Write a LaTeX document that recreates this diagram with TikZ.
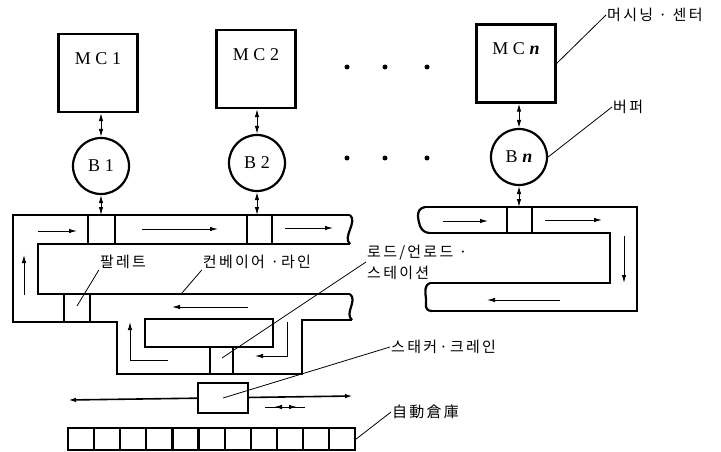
\documentclass[tikz,border=0pt]{standalone}
\usepackage{fontspec}
\setmainfont{Liberation Serif}
\newfontfamily\kr[LetterSpace=15]{Noto Sans CJK KR}
\usetikzlibrary{arrows.meta,positioning}

\begin{document}
\begin{tikzpicture}[x=1pt, y=-1pt,
    mc/.style={draw, line width=2.2pt, minimum width=79pt, minimum height=78pt},
    mctext/.style={font=\fontsize{18}{20}\selectfont, inner sep=0pt},
    buf/.style={draw, circle, line width=2.2pt, minimum size=56pt, inner sep=0pt,
                font=\fontsize{18}{20}\selectfont},
    cell/.style={draw, line width=2.2pt, minimum width=26.1pt, minimum height=22pt},
    lbl/.style={font=\kr\fontsize{15}{21}\selectfont, inner sep=1pt},
    wall/.style={line width=2.2pt},
    arr/.style={-{Latex[length=8pt,width=4.5pt]}, line width=1pt},
    link/.style={{Latex[length=8pt,width=4.5pt]}-{Latex[length=8pt,width=4.5pt]}, line width=1pt},
    lead/.style={line width=0.8pt}]
  \useasboundingbox (0,0) rectangle (721,452);

  % machining centres and buffers
  \node[mc] (mc1) at (98,73) {};
  \node[mc] (mc2) at (256,69) {};
  \node[mc] (mcn) at (516,63.5) {};
  \node[mctext, below=19pt of mc1.north] {M C 1};
  \node[mctext, below=19pt of mc2.north] {M C 2};
  \node[mctext, below=19pt of mcn.north] {M C \textbf{\textit{n}}};
  \node[buf] (b1) at (101,166) {B 1};
  \node[buf] (b2) at (257,163) {B 2};
  \node[buf] (bn) at (519,157) {B \textbf{\textit{n}}};
  \foreach \x in {347,385,427} {
    \fill (\x,67) circle (2.5pt);
    \fill (\x,158) circle (2.5pt);
  }

  % conveyor line, left part
  \draw[wall] (350,215) -- (13,215) -- (13,322) -- (117,322) -- (117,374)
    -- (302,374) -- (302,320) -- (352,320);
  \draw[wall] (350,244) -- (38,244) -- (38,294) -- (350,294);
  \draw[wall] (350,215) .. controls (358,222) and (342,237) .. (350,244);
  \draw[wall] (350,294) .. controls (358,301) and (344,313) .. (352,320);
  \draw[wall] (145,319) rectangle (273,347);
  \foreach \x in {88,115,247,272} \draw[wall] (\x,215) -- (\x,244);
  \draw[wall] (64,294) -- (64,322) (90,294) -- (90,322);
  \draw[wall] (210,347) -- (210,374) (233,347) -- (233,374);
  % conveyor line, right part
  \draw[wall] (425,207) -- (637,207) -- (637,311) -- (432,311);
  \draw[wall] (430,233) -- (610,233) -- (610,283) -- (430,283);
  \draw[wall] (425,207) .. controls (414,209) and (419,222) .. (420,226)
    .. controls (422,231) and (426,233) .. (430,233);
  \draw[wall] (430,283) .. controls (422,286) and (427,298) .. (426,303)
    .. controls (425,309) and (428,311) .. (432,311);
  \foreach \x in {507,532} \draw[wall] (\x,207) -- (\x,233);
  \coordinate (s1) at (101,215);
  \coordinate (s2) at (257,215);
  \coordinate (sn) at (519,207);

  \draw[link] (b1.north) -- (b1.north |- mc1.south);
  \draw[link] (b2.north) -- (b2.north |- mc2.south);
  \draw[link] (bn.north) -- (bn.north |- mcn.south);
  \draw[link] (b1.south) -- (s1);
  \draw[link] (b2.south) -- (s2);
  \draw[link] (bn.south) -- (sn);

  % flow direction
  \draw[arr] (38,231) -- (77,231);
  \draw[arr] (142,229) -- (218,229);
  \draw[arr] (285,228) -- (333,228);
  \draw[arr] (443,221) -- (488,221);
  \draw[arr] (545,220) -- (602,220);
  \draw[arr] (624,236) -- (624,283);
  \draw[arr] (560,300) -- (487,300);
  \draw[arr] (248,307) -- (172,307);
  \draw[arr] (24,295) -- (24,255);
  \draw[arr] (168,360) -| (130,322);
  \draw[arr] (287,322) |- (255,356);

  % stacker crane and warehouse
  \coordinate (rw) at (68,400);
  \coordinate (re) at (353,396);
  \draw[link, line width=1.6pt] (rw) -- (re);
  \node[cell, fill=white, minimum width=50pt, minimum height=30pt] (crane) at (223,398) {};
  \draw[arr] (305,407) -- (274,407);
  \draw[arr] (265,407) -- (297,407);
  \foreach \i in {1,...,11}
    \node[cell] (c\i) at ({68+13.05+26.1*(\i-1)},439) {};

  % labels
  \node[lbl, anchor=west] (lmc) at (606,15) {머시닝 · 센터};
  \node[lbl, anchor=west] (lbuf) at (612,107) {버퍼};
  \node[lbl] (lpal) at (123,262) {팔레트};
  \node[lbl] (lconv) at (257,262) {컨베이어 ·라인};
  \node[lbl, anchor=west, align=left] (lst) at (366,262) {로드/언로드 ·\\스테이션};
  \node[lbl, anchor=west] (lcrane) at (390,347) {스태커·크레인};
  \node[lbl, anchor=west] (lasrs) at (391,412) {自動倉庫};
  \coordinate (pal) at (77,306);
  \coordinate (cv) at (182,293);
  \coordinate (ld) at (222,358);
  \draw[lead] (mcn.east) -- (lmc.west);
  \draw[lead] (bn.east) -- (lbuf.west);
  \draw[lead] (pal) -- (lpal.south west);
  \draw[lead] (cv) -- (lconv.south west);
  \draw[lead] (ld) -- (lst.west);
  \draw[lead] (crane.center) -- (lcrane.west);
  \draw[lead] (c11.east) -- (lasrs.west);
\end{tikzpicture}
\end{document}
